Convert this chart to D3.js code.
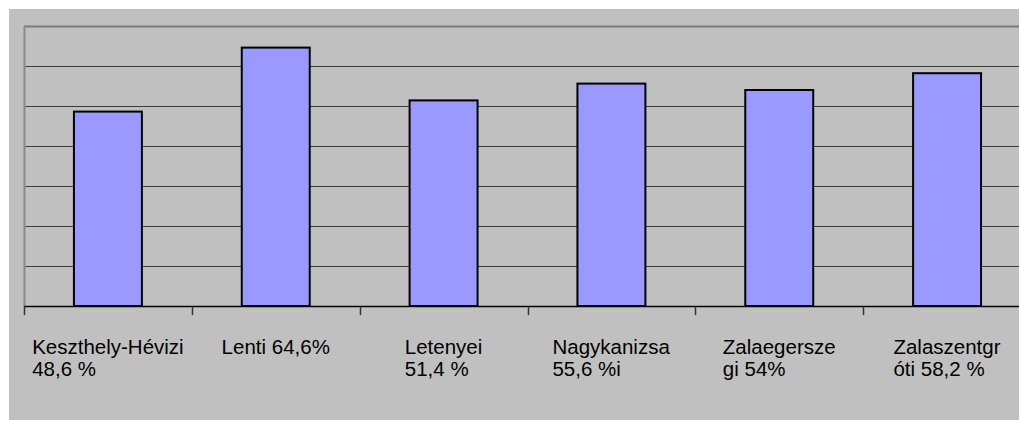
<!DOCTYPE html>
<html>
<head>
<meta charset="utf-8">
<script src="https://cdn.jsdelivr.net/npm/d3@7/dist/d3.min.js"></script>
<style>
  html, body { margin: 0; padding: 0; background: #fff; }
  svg { display: block; }
</style>
</head>
<body>
<div id="chart"></div>
<script>
var categories = ["Keszthely-Hévizi", "Lenti", "Letenyei", "Nagykanizsa", "Zalaegerszegi", "Zalaszentgróti"];
var values = [48.6, 64.6, 51.4, 55.6, 54, 58.2];
var labelLines = [
    ["Keszthely-Hévizi", "48,6 %"],
    ["Lenti 64,6%"],
    ["Letenyei", "51,4 %"],
    ["Nagykanizsa", "55,6 %i"],
    ["Zalaegersze", "gi 54%"],
    ["Zalaszentgr", "óti 58,2 %"]
];
var gridValues = [10, 20, 30, 40, 50, 60];

var width = 1019;
var height = 421;
var plot = { left: 24, top: 26, right: 1031, bottom: 306 };

var svg = d3.select("#chart")
    .append("svg")
    .attr("width", width)
    .attr("height", height);

// grey chart area
svg.append("rect")
    .attr("x", 9)
    .attr("y", 9)
    .attr("width", width - 9)
    .attr("height", 411)
    .attr("fill", "#c0c0c0");

var x = d3.scaleBand()
    .domain(categories)
    .range([plot.left, plot.right])
    .paddingInner(0.595)
    .paddingOuter(0.2975);

var y = d3.scaleLinear()
    .domain([0, 70])
    .range([plot.bottom, plot.top]);

// gridlines
svg.selectAll(".grid")
    .data(gridValues)
    .enter()
    .append("line")
    .attr("x1", plot.left)
    .attr("x2", plot.right)
    .attr("y1", function (d) { return Math.round(y(d)) + 0.5; })
    .attr("y2", function (d) { return Math.round(y(d)) + 0.5; })
    .attr("stroke", "#3c3c3c")
    .attr("stroke-width", 1.2);

// plot border: top and left in grey
svg.append("line")
    .attr("x1", plot.left)
    .attr("x2", plot.right)
    .attr("y1", y(70) + 0.5)
    .attr("y2", y(70) + 0.5)
    .attr("stroke", "#7a7a7a")
    .attr("stroke-width", 2);

svg.append("line")
    .attr("x1", plot.left + 0.5)
    .attr("x2", plot.left + 0.5)
    .attr("y1", y(70))
    .attr("y2", y(0))
    .attr("stroke", "#8a8a8a")
    .attr("stroke-width", 2);

// bars
svg.selectAll(".bar")
    .data(values)
    .enter()
    .append("rect")
    .attr("x", function (d, i) { return x(categories[i]); })
    .attr("y", function (d) { return y(d); })
    .attr("width", x.bandwidth())
    .attr("height", function (d) { return y(0) - y(d); })
    .attr("fill", "#9999ff")
    .attr("stroke", "#000")
    .attr("stroke-width", 2);

// category axis
var step = x.step();
svg.append("line")
    .attr("x1", plot.left)
    .attr("x2", plot.right)
    .attr("y1", y(0) + 0.5)
    .attr("y2", y(0) + 0.5)
    .attr("stroke", "#000")
    .attr("stroke-width", 1.5);

svg.selectAll(".tick")
    .data(d3.range(categories.length + 1))
    .enter()
    .append("line")
    .attr("x1", function (i) { return Math.round(plot.left + i * step) + 0.5; })
    .attr("x2", function (i) { return Math.round(plot.left + i * step) + 0.5; })
    .attr("y1", y(0))
    .attr("y2", y(0) + 9)
    .attr("stroke", "#333")
    .attr("stroke-width", 1.5);

// category labels, block centred under the bar, lines left aligned
var labels = svg.selectAll(".label")
    .data(labelLines)
    .enter()
    .append("text")
    .attr("font-family", "'Liberation Sans', Arial, sans-serif")
    .attr("font-size", 20.5)
    .attr("fill", "#000")
    .attr("y", 354);

labels.selectAll("tspan")
    .data(function (d) { return d; })
    .enter()
    .append("tspan")
    .attr("x", 0)
    .attr("dy", function (d, i) { return i === 0 ? 0 : 22; })
    .text(function (d) { return d; });

labels.each(function (d, i) {
    var t = d3.select(this);
    var w = this.getBBox().width;
    var left = x(categories[i]) + x.bandwidth() / 2 - w / 2;
    t.selectAll("tspan").attr("x", left);
});
</script>
</body>
</html>
